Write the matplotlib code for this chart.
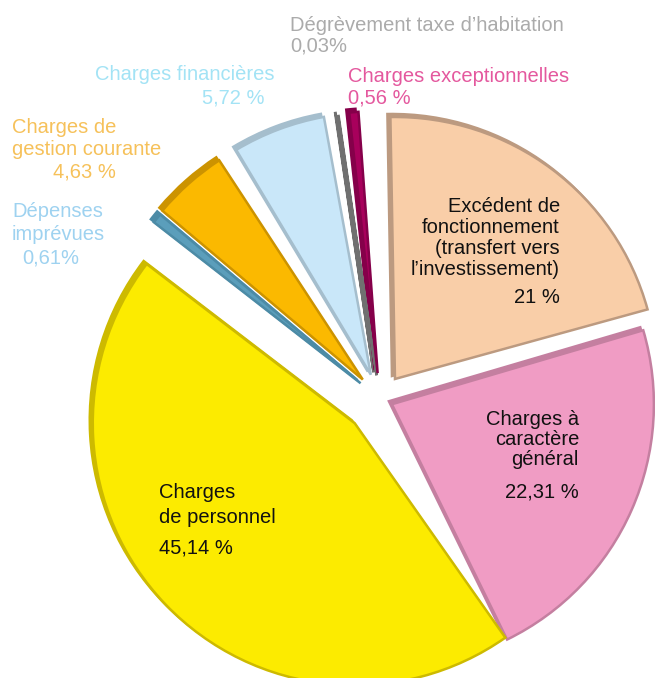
import numpy as np
import matplotlib.pyplot as plt
from matplotlib.patches import Wedge

# data
names = ["Excédent de\nfonctionnement\n(transfert vers\nl’investissement)",
         "Charges à\ncaractère\ngénéral",
         "Charges\nde personnel",
         "Dépenses\nimprévues",
         "Charges de\ngestion courante",
         "Charges financières",
         "Dégrèvement taxe d’habitation",
         "Charges exceptionnelles"]
values = [21, 22.31, 45.14, 0.61, 4.63, 5.72, 0.03, 0.56]
pct_labels = ["21 %", "22,31 %", "45,14 %", "0,61%", "4,63 %", "5,72 %", "0,03%", "0,56 %"]

# style
colors = ['#F9CEA8', '#F09CC4', '#FCEB00', '#5B9EBB', '#FBB900', '#C9E7F9', '#8C8C8C', '#A8005C']
edges = ['#BC9A80', '#C47FA0', '#CDBA00', '#4C8BA6', '#CC9300', '#A5BECD', '#707070', '#85004A']
text_colors = ['#111111', '#111111', '#111111', '#9ED2F0', '#F6C15A', '#A3E3F5', '#ABABAB', '#E4589E']

W, H = 655, 678
cx, cy = 380, H - 399
R = 262
rot = [1, 2, 11, 10.5, 10.5, 8.2, 6.3, 4.2]   # degrees, rotate slice
push = [25, 13, 35, 25, 26, 26, 24, 26]       # explode distance in px

# label layout: name x, first baseline, line step, ha, pct x, pct baseline (image px)
layout = [(560, 212, 21, 'right', 560, 303),
          (579, 425, 20, 'right', 579, 498),
          (159, 498, 25, 'left', 159, 553),
          (12, 217, 23, 'left', 22, 263),
          (12, 133, 22, 'left', 53, 178),
          (95, 80, 22, 'left', 202, 103),
          (290, 31, 21, 'left', 290, 52),
          (348, 82, 21, 'left', 348, 103)]

plt.rcParams['font.family'] = ['Liberation Sans', 'DejaVu Sans']

fig = plt.figure(figsize=(W / 100, H / 100), dpi=100)
ax = fig.add_axes([0, 0, 1, 1])

wedges, _ = ax.pie(values, colors=colors, startangle=90, counterclock=False,
                   center=(cx, cy), radius=R,
                   wedgeprops=dict(linewidth=1.8))

for w, r, d, ec in zip(wedges, rot, push, edges):
    w.set_theta1(w.theta1 + r)
    w.set_theta2(w.theta2 + r)
    mid = np.deg2rad((w.theta1 + w.theta2) / 2)
    x0, y0 = cx + d * np.cos(mid), cy + d * np.sin(mid)
    w.set_center((x0, y0))
    w.set_edgecolor(ec)
    w.set_zorder(3)
    # bevel / thickness behind the slice
    side = Wedge((x0 - 3, y0 + 3), R, w.theta1, w.theta2,
                 facecolor=ec, edgecolor=ec, linewidth=1.8, zorder=2)
    ax.add_patch(side)

for name, pct, (x, y, step, ha, px, py), tc in zip(names, pct_labels, layout, text_colors):
    for k, line in enumerate(name.split('\n')):
        ax.text(x, H - (y + k * step), line, ha=ha, va='baseline',
                color=tc, fontsize=14.5, zorder=5)
    ax.text(px, H - py, pct, ha=ha, va='baseline', color=tc, fontsize=14.5, zorder=5)

ax.set_xlim(0, W)
ax.set_ylim(0, H)
ax.set_aspect('equal')
ax.axis('off')

plt.savefig('out.png', dpi=100)
